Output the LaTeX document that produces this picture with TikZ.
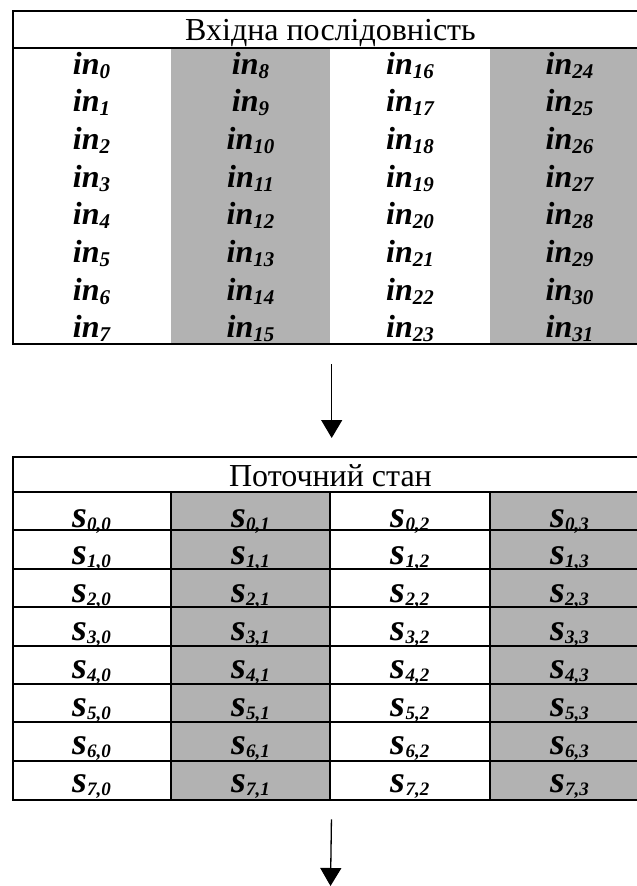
\documentclass[tikz,border=0pt]{standalone}
\usepackage{fontspec}
\setmainfont{Liberation Serif}
\usetikzlibrary{arrows.meta}
\definecolor{cellgray}{RGB}{178,178,178}
\newcommand\inlab[1]{{\fontsize{32}{32}\selectfont\bfseries\itshape in\raisebox{-4pt}{\fontsize{21}{21}\selectfont #1}}}
\newcommand\slab[2]{{\fontsize{38}{38}\selectfont\bfseries\itshape s\raisebox{-3pt}{\fontsize{19}{19}\selectfont #1,#2}}}
\tikzset{
  frame/.style={draw, line width=2.4pt, inner sep=0pt, anchor=north west},
  rule/.style={line width=2pt},
  title/.style={anchor=base, inner sep=0pt, font=\fontsize{32}{32}\selectfont},
  cell/.style={anchor=base, inner sep=0pt},
  arr/.style={line width=1.3pt, -{Triangle[width=21pt,length=18pt]}}
}
\begin{document}
\begin{tikzpicture}[x=1pt,y=-1pt]
\path[use as bounding box] (0,0) rectangle (637,886);
\clip (0,0) rectangle (637,886);
% gray columns
\fill[cellgray] (171,48) rectangle (330,343);
\fill[cellgray] (490,48) rectangle (649,343);
\fill[cellgray] (171,492) rectangle (330,799);
\fill[cellgray] (490,492) rectangle (649,799);
% table frames
\node[frame, minimum width=637pt, minimum height=333pt] (t1) at (12,10) {};
\node[frame, minimum width=637pt, minimum height=343pt] (t2) at (12,456) {};
\draw[rule] (12,48) -- (649,48);
\draw[rule] (12,492) -- (649,492);
\foreach \k in {1,...,7} {
  \draw[rule] (12,{492+38.375*\k}) -- (649,{492+38.375*\k});
}
\foreach \x in {171,330,490} {
  \draw[rule] (\x,492) -- (\x,799);
}
% titles
\node[title] (h1) at (330.5,40) {Вхідна послідовність};
\node[title] (h2) at (330.5,486) {Поточний стан};
% cells
\foreach \c/\cx in {0/91.5,1/250.5,2/410,3/569.5} {
  \foreach \r in {0,...,7} {
    \pgfmathtruncatemacro\idx{8*\c+\r}
    \node[cell] (in\idx) at (\cx,{74+37.7*\r}) {\inlab{\idx}};
    \node[cell] (s\r\c) at (\cx,{527+37.9*\r}) {\slab{\r}{\c}};
  }
}
% arrows
\coordinate (end) at (330.5,886);
\draw[arr, shorten <=19pt, shorten >=18pt] (t1.south) -- (t2.north);
\draw[arr, shorten <=18pt] (t2.south) -- (end);
\end{tikzpicture}
\end{document}
